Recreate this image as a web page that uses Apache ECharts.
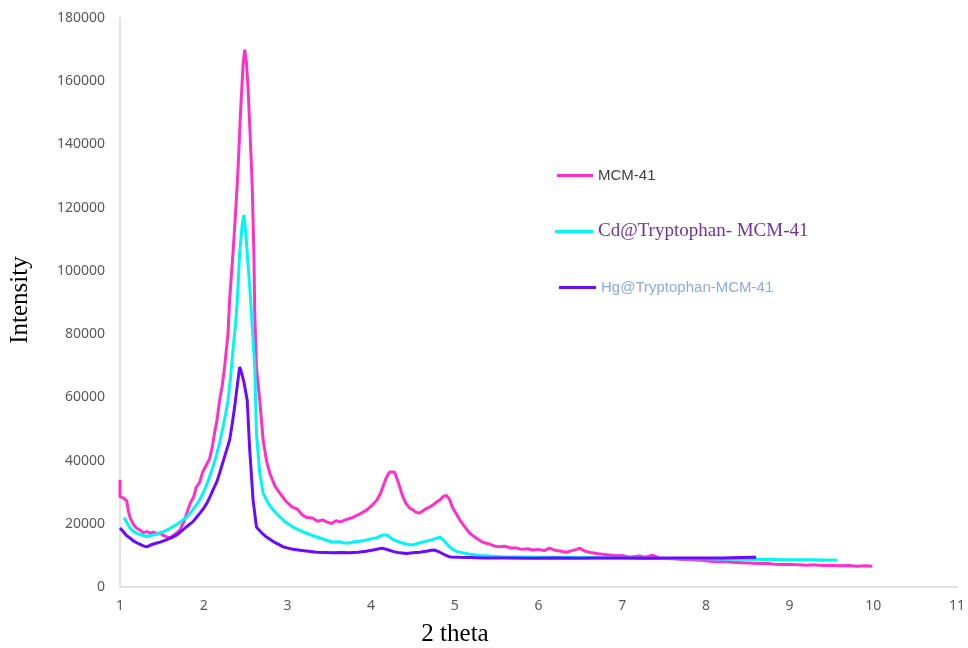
<!DOCTYPE html>
<html lang="en">
<head>
    <meta charset="UTF-8">
    <title>XRD</title>
    <script src="https://cdn.jsdelivr.net/npm/echarts@6/dist/echarts.min.js"></script>
    <style>
        html, body { margin: 0; padding: 0; background: #fff; }
        #main { width: 968px; height: 648px; }
    </style>
</head>
<body>
<div id="main"></div>
<script>
    // [2 theta, intensity]
    var mcm41 = [
        [1.00, 33900], [1.00, 28500], [1.04, 28200], [1.08, 27300], [1.10, 24000], [1.12, 22000],
        [1.16, 19800], [1.20, 18600], [1.24, 18000], [1.28, 17200], [1.32, 17500], [1.36, 17000],
        [1.40, 17400], [1.44, 16900], [1.48, 17000], [1.52, 16300], [1.56, 15800], [1.60, 15500],
        [1.64, 16400], [1.68, 17200], [1.72, 18200], [1.76, 20500], [1.80, 23500], [1.84, 26600],
        [1.88, 28500], [1.91, 31500], [1.95, 33000], [1.99, 36500], [2.03, 38500], [2.07, 40500],
        [2.10, 44000], [2.13, 48700], [2.16, 53000], [2.19, 59000], [2.22, 63500], [2.25, 69600],
        [2.29, 80000], [2.31, 91000], [2.35, 105700], [2.38, 118000], [2.41, 132000], [2.44, 150000],
        [2.47, 165000], [2.49, 170000], [2.51, 166000], [2.53, 158000], [2.56, 140000], [2.58, 126600],
        [2.60, 105000], [2.61, 86700], [2.63, 69600], [2.67, 59000], [2.71, 46500], [2.75, 40000],
        [2.79, 36000], [2.85, 32000], [2.91, 29700], [2.98, 27200], [3.06, 25300], [3.12, 24600],
        [3.18, 22800], [3.23, 22000], [3.30, 21800], [3.36, 20800], [3.42, 21200], [3.47, 20600],
        [3.53, 20100], [3.58, 21000], [3.63, 20600], [3.70, 21300], [3.78, 22000], [3.85, 22900],
        [3.90, 23600], [3.95, 24400], [4.01, 25800], [4.07, 27500], [4.11, 29500], [4.14, 31600],
        [4.18, 34500], [4.22, 36400], [4.28, 36400], [4.32, 33500], [4.35, 31000], [4.38, 28500],
        [4.42, 26300], [4.46, 25000], [4.50, 24400], [4.54, 23600], [4.58, 23400], [4.62, 24100],
        [4.66, 24800], [4.70, 25300], [4.75, 26200], [4.79, 27000], [4.82, 27500], [4.86, 28600],
        [4.90, 29000], [4.94, 27600], [4.97, 25300], [5.02, 23100], [5.06, 21200], [5.12, 19000],
        [5.18, 17000], [5.25, 15600], [5.33, 14200], [5.40, 13700], [5.47, 13000], [5.53, 12700],
        [5.60, 12900], [5.67, 12300], [5.74, 12300], [5.80, 11900], [5.87, 12100], [5.93, 11700],
        [6.00, 11900], [6.07, 11500], [6.13, 12300], [6.20, 11600], [6.27, 11300], [6.33, 11000],
        [6.40, 11500], [6.46, 11900], [6.49, 12300], [6.55, 11400], [6.64, 10800], [6.72, 10500],
        [6.79, 10300], [6.85, 10100], [6.93, 9900], [7.00, 10000], [7.06, 9600], [7.12, 9500],
        [7.20, 9800], [7.28, 9400], [7.36, 10100], [7.44, 9200], [7.52, 9000], [7.62, 8900],
        [7.72, 8700], [7.82, 8600], [7.92, 8500], [8.02, 8200], [8.12, 8000], [8.22, 8100],
        [8.32, 7800], [8.42, 7700], [8.52, 7600], [8.62, 7400], [8.72, 7500], [8.82, 7200],
        [8.92, 7100], [9.02, 7200], [9.11, 7000], [9.20, 6900], [9.30, 7000], [9.40, 6800],
        [9.50, 6900], [9.60, 6700], [9.70, 6800], [9.80, 6600], [9.90, 6700], [9.99, 6600]
    ];
    var cdMcm41 = [
        [1.05, 22000], [1.08, 20500], [1.12, 18700], [1.16, 17600], [1.20, 17000], [1.24, 16600],
        [1.28, 16300], [1.32, 16000], [1.36, 16200], [1.40, 16500], [1.44, 16700], [1.48, 17100],
        [1.52, 17500], [1.56, 18000], [1.60, 18600], [1.64, 19200], [1.68, 19800], [1.72, 20600],
        [1.76, 21400], [1.80, 22300], [1.84, 23400], [1.88, 24800], [1.92, 26200], [1.95, 27500],
        [1.99, 29500], [2.03, 32000], [2.07, 34800], [2.11, 38000], [2.15, 41500], [2.19, 45600],
        [2.23, 50500], [2.26, 54500], [2.29, 59000], [2.32, 66000], [2.35, 75000], [2.38, 83000],
        [2.40, 90000], [2.43, 105700], [2.46, 114500], [2.48, 117700], [2.50, 113000], [2.52, 105700],
        [2.55, 95000], [2.57, 86700], [2.61, 69600], [2.63, 48700], [2.67, 36000], [2.71, 29700],
        [2.77, 26500], [2.83, 24400], [2.91, 22200], [2.99, 20300], [3.07, 18900], [3.15, 17900],
        [3.23, 17000], [3.31, 16200], [3.39, 15500], [3.47, 14800], [3.54, 14200], [3.62, 14300],
        [3.68, 13900], [3.74, 13900], [3.80, 14300], [3.87, 14500], [3.95, 14900], [4.01, 15300],
        [4.07, 15600], [4.12, 16300], [4.16, 16500], [4.20, 16300], [4.25, 15200], [4.30, 14600],
        [4.36, 14000], [4.42, 13600], [4.48, 13300], [4.54, 13600], [4.60, 14100], [4.66, 14500],
        [4.72, 14900], [4.78, 15400], [4.82, 15800], [4.86, 15000], [4.90, 13800], [4.94, 12700],
        [4.98, 11800], [5.03, 11200], [5.10, 10800], [5.18, 10400], [5.30, 10000], [5.42, 9800],
        [5.55, 9600], [5.70, 9500], [5.85, 9500], [6.00, 9400], [6.20, 9400], [6.40, 9300],
        [6.60, 9300], [6.80, 9200], [7.00, 9200], [7.25, 9100], [7.50, 9000], [7.75, 8900],
        [8.00, 8900], [8.25, 8800], [8.50, 8800], [8.75, 8700], [9.00, 8600], [9.25, 8600],
        [9.57, 8500]
    ];
    var hgMcm41 = [
        [1.00, 18700], [1.04, 17500], [1.08, 16200], [1.12, 15500], [1.16, 14600], [1.20, 14000],
        [1.24, 13500], [1.28, 13000], [1.32, 12700], [1.36, 13200], [1.40, 13600], [1.44, 13900],
        [1.48, 14200], [1.53, 14700], [1.58, 15200], [1.63, 15800], [1.68, 16500], [1.73, 17600],
        [1.78, 18700], [1.82, 19600], [1.87, 20600], [1.91, 21900], [1.95, 23200], [2.00, 24900],
        [2.04, 26600], [2.08, 28800], [2.12, 31200], [2.16, 33500], [2.19, 36000], [2.23, 39500],
        [2.27, 43000], [2.31, 46500], [2.34, 51500], [2.37, 57000], [2.40, 63500], [2.43, 69600],
        [2.45, 68000], [2.48, 65000], [2.52, 59000], [2.55, 43400], [2.59, 27500], [2.63, 19000],
        [2.69, 17200], [2.75, 15800], [2.85, 14100], [2.95, 12700], [3.05, 12000], [3.15, 11600],
        [3.25, 11300], [3.35, 11000], [3.45, 10900], [3.55, 10800], [3.65, 10900], [3.74, 10800],
        [3.84, 11000], [3.94, 11300], [4.04, 11800], [4.13, 12300], [4.20, 11800], [4.27, 11200],
        [4.34, 10800], [4.42, 10600], [4.50, 10800], [4.58, 11000], [4.66, 11300], [4.72, 11600],
        [4.76, 11700], [4.82, 11000], [4.88, 10200], [4.94, 9500], [5.05, 9400], [5.20, 9300],
        [5.33, 9200], [5.60, 9200], [5.90, 9100], [6.20, 9200], [6.50, 9100], [6.73, 9200],
        [7.00, 9200], [7.30, 9100], [7.60, 9200], [7.90, 9200], [8.20, 9200], [8.40, 9300],
        [8.60, 9400]
    ];
    var seriesNames = ['MCM-41', 'Cd@Tryptophan- MCM-41', 'Hg@Tryptophan-MCM-41'];
    var seriesColors = ['#ff2fc9', '#00f5f5', '#6a0aff'];

    var myChart = echarts.init(document.getElementById('main'));

    var option = {
        backgroundColor: '#ffffff',
        animation: false,
        grid: { left: 120, right: 10, top: 18, bottom: 61, containLabel: false },
        xAxis: {
            type: 'value',
            min: 1, max: 11, interval: 1,
            axisLine: { show: true, lineStyle: { color: '#d9d9d9', width: 1.5 } },
            axisTick: { show: false },
            splitLine: { show: false },
            axisLabel: { color: '#595959', fontFamily: 'Noto Sans', fontSize: 14, margin: 12 }
        },
        yAxis: {
            type: 'value',
            min: 0, max: 180000, interval: 20000,
            axisLine: { show: true, lineStyle: { color: '#d9d9d9', width: 1.5 } },
            axisTick: { show: false },
            splitLine: { show: false },
            axisLabel: {
                color: '#595959', fontFamily: 'Noto Sans', fontSize: 14, margin: 15,
                formatter: function (v) { return String(v); }
            }
        },
        legend: [
            {
                data: [seriesNames[0]], left: 552, top: 163, icon: 'rect',
                itemWidth: 36, itemHeight: 3,
                textStyle: { color: '#404040', fontFamily: 'Liberation Sans', fontSize: 15 }
            },
            {
                data: [seriesNames[1]], left: 550, top: 217, icon: 'rect',
                itemWidth: 38, itemHeight: 3,
                textStyle: { color: '#7030a0', fontFamily: 'Liberation Serif', fontSize: 19 }
            },
            {
                data: [seriesNames[2]], left: 554, top: 275, icon: 'rect',
                itemWidth: 37, itemHeight: 3,
                textStyle: { color: '#8ea9db', fontFamily: 'Liberation Sans', fontSize: 15 }
            }
        ],
        graphic: [
            {
                type: 'text', x: 20, y: 300, rotation: Math.PI / 2,
                style: {
                    text: 'Intensity', fill: '#000', font: '25px "Liberation Serif"',
                    align: 'center', verticalAlign: 'middle'
                }
            },
            {
                type: 'text', x: 455, y: 634,
                style: {
                    text: '2 theta', fill: '#000', font: '25px "Liberation Serif"',
                    align: 'center', verticalAlign: 'middle'
                }
            }
        ],
        series: [
            {
                name: seriesNames[0], type: 'line', data: mcm41, showSymbol: false,
                lineStyle: { color: seriesColors[0], width: 3 }, itemStyle: { color: seriesColors[0] }
            },
            {
                name: seriesNames[1], type: 'line', data: cdMcm41, showSymbol: false,
                lineStyle: { color: seriesColors[1], width: 3 }, itemStyle: { color: seriesColors[1] }
            },
            {
                name: seriesNames[2], type: 'line', data: hgMcm41, showSymbol: false,
                lineStyle: { color: seriesColors[2], width: 3 }, itemStyle: { color: seriesColors[2] }
            }
        ]
    };
    myChart.setOption(option);
</script>
</body>
</html>
